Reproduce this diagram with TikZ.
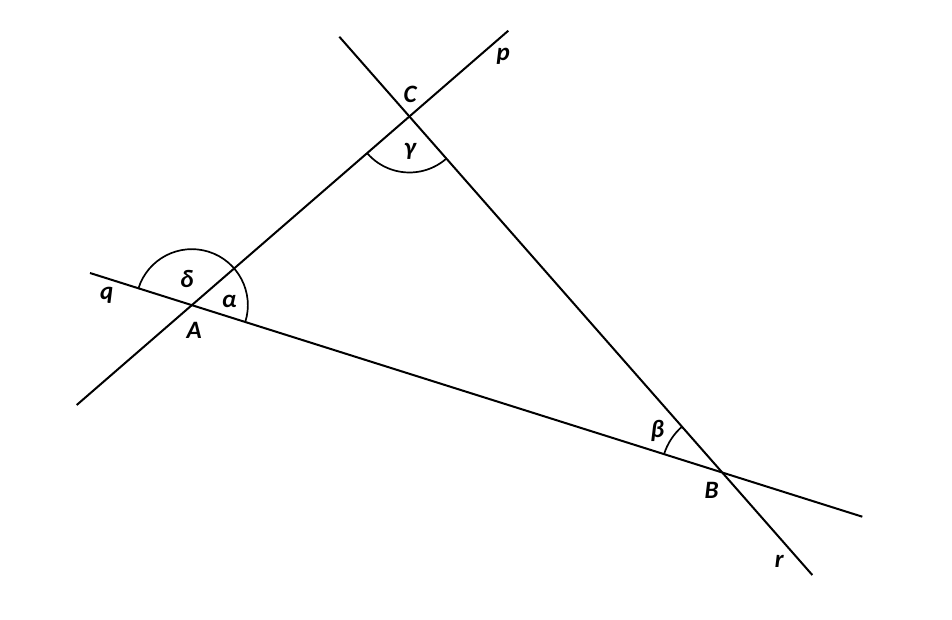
\documentclass[tikz,border=0pt]{standalone}
\usepackage{fontspec}
\setmainfont{Carlito}
\usetikzlibrary{angles}
\tikzset{
    line/.style={draw=black, line width=2pt},
    anglemark/.style={draw=black, line width=1.7pt},
    lbl/.style={font=\fontsize{25}{25}\selectfont\bfseries\itshape, inner sep=0pt},
}
\begin{document}
\begin{tikzpicture}[x=1pt, y=1pt]
		\useasboundingbox (0,0) rectangle (952,-619);
		% ends of the three lines
		\coordinate (P1) at (76.7,-405);
		\coordinate (P2) at (508.3,-30.7);
		\coordinate (Q1) at (90,-273);
		\coordinate (Q2) at (862.3,-516.7);
		\coordinate (R1) at (339.3,-36.7);
		\coordinate (R2) at (812.3,-575);
		\coordinate (A) at (intersection of P1--P2 and Q1--Q2);
		\coordinate (B) at (intersection of Q1--Q2 and R1--R2);
		\coordinate (C) at (intersection of P1--P2 and R1--R2);
		\draw[line] (P1) -- (P2);
		\draw[line] (Q1) -- (Q2);
		\draw[line] (R1) -- (R2);
		% angles
		\pic[anglemark, angle radius=56pt] {angle = B--A--Q1};
		\pic[anglemark, angle radius=56pt] {angle = A--C--B};
		\pic[anglemark, angle radius=61pt] {angle = C--B--A};
		% labels
		\node[lbl] (labq) at (106.7,-295) {q};
		\node[lbl] (labp) at (503.3,-56.7) {p};
		\node[lbl] (labr) at (779.3,-561.7) {r};
		\node[lbl] (labA) at (194.3,-330) {A};
		\node[lbl] (labB) at (711.7,-490.7) {B};
		\node[lbl] (labC) at (410,-94.3) {C};
		\node[lbl] (labd) at (186.7,-279.3) {δ};
		\node[lbl] (laba) at (229.3,-301) {α};
		\node[lbl] (labg) at (410,-151) {γ};
		\node[lbl] (labb) at (657.3,-430.7) {β};
\end{tikzpicture}
\end{document}
